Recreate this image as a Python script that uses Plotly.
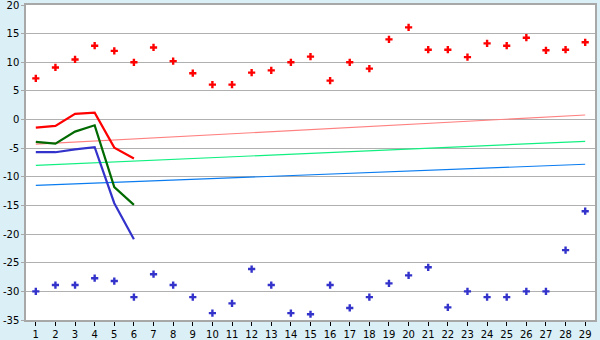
import plotly.graph_objects as go

cats = list(range(1, 30))
red_pts = [7.2, 9.1, 10.5, 12.9, 12.0, 10.0, 12.6, 10.2, 8.1, 6.1, 6.1, 8.2, 8.6, 10.0, 11.0,
           6.8, 10.0, 8.9, 14.0, 16.1, 12.2, 12.2, 10.9, 13.3, 12.9, 14.3, 12.1, 12.2, 13.5]
blue_pts = [-30.0, -28.9, -28.9, -27.7, -28.2, -31.0, -27.0, -28.9, -31.0, -33.8, -32.1, -26.1,
            -28.9, -33.8, -34.0, -28.9, -32.9, -31.0, -28.6, -27.2, -25.8, -32.8, -30.0, -31.0,
            -31.0, -30.0, -30.0, -22.8, -16.0]
line_cats = [1, 2, 3, 4, 5, 6]
red_line = [-1.4, -1.1, 1.0, 1.2, -4.9, -6.8]
green_line = [-3.9, -4.2, -2.1, -1.0, -11.8, -14.9]
blue_line = [-5.7, -5.7, -5.2, -4.8, -14.6, -20.9]
trend_x = [1, 29]
red_trend = [-4.3, 0.8]
green_trend = [-8.0, -3.8]
blue_trend = [-11.5, -7.8]
y_ticks = [-35, -30, -25, -20, -15, -10, -5, 0, 5, 10, 15, 20]
y_labels = ["-35", "-30", "-25", "-20", "-15", "-10", "-5", "0", "5", "10", "15", "20"]

fig = go.Figure()
fig.add_trace(go.Scatter(x=trend_x, y=red_trend, mode="lines", line=dict(color="#FF8080", width=1.2)))
fig.add_trace(go.Scatter(x=trend_x, y=green_trend, mode="lines", line=dict(color="#10F080", width=1.2)))
fig.add_trace(go.Scatter(x=trend_x, y=blue_trend, mode="lines", line=dict(color="#0A7CF0", width=1.2)))
fig.add_trace(go.Scatter(x=line_cats, y=red_line, mode="lines", line=dict(color="#FF0000", width=2.2)))
fig.add_trace(go.Scatter(x=line_cats, y=green_line, mode="lines", line=dict(color="#006A00", width=2.2)))
fig.add_trace(go.Scatter(x=line_cats, y=blue_line, mode="lines", line=dict(color="#3333CC", width=2.2)))
fig.add_trace(go.Scatter(x=cats, y=red_pts, mode="markers",
                         marker=dict(color="#FF0000", symbol="cross", size=6, line=dict(width=0))))
fig.add_trace(go.Scatter(x=cats, y=blue_pts, mode="markers",
                         marker=dict(color="#3333CC", symbol="cross", size=6, line=dict(width=0))))

fig.update_layout(
    width=600, height=340,
    margin=dict(l=26, r=5, t=5, b=20, autoexpand=False),
    paper_bgcolor="#DAEFF6", plot_bgcolor="#FFFFFF",
    showlegend=False,
    font=dict(family="DejaVu Sans", size=10, color="#000000"),
)
fig.update_xaxes(range=[0.5, 29.5], tickmode="array", tickvals=cats, ticktext=[str(c) for c in cats],
                 showgrid=False, showline=True, linecolor="#A8A8A8", linewidth=1.5, mirror=True,
                 ticks="outside", ticklen=4, tickcolor="#000000", zeroline=False, automargin=False)
fig.update_yaxes(range=[-35, 20.01], tickmode="array", tickvals=y_ticks, ticktext=y_labels,
                 showgrid=True, gridcolor="#B0B0B0", gridwidth=1.2,
                 showline=True, linecolor="#A8A8A8", linewidth=1.5, mirror=True,
                 ticks="outside", ticklen=3, tickcolor="#A8A8A8", zeroline=False, automargin=False,
                 ticklabeloverflow="allow")

fig.write_html("out.html")
